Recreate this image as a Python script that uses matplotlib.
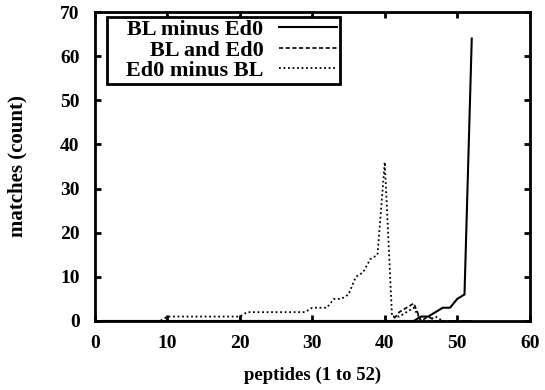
import matplotlib
matplotlib.use('Agg')
import matplotlib.pyplot as plt
import numpy as np

plt.rcParams['font.family'] = 'Liberation Serif'
plt.rcParams['font.weight'] = 'bold'

peptides = list(range(1, 53))

# BL minus Ed0
bl_minus = [0]*44 + [1, 1, 2, 3, 3, 5, 6, 64]
# BL and Ed0
bl_and = [0]*41 + [2, 3, 4, 0, 1, 0] + [0]*5
# Ed0 minus BL
ed0_minus = ([0]*9 + [1]*11 + [2]*9 + [3]*3 + [5, 5, 6, 10, 11, 14, 15, 36]
             + [1, 1, 2, 3, 0, 0, 1, 0] + [0]*4)

fig = plt.figure(figsize=(5.45, 3.9), dpi=100)
ax = fig.add_axes([0.174, 0.177, 0.798, 0.792])

ax.plot(peptides, bl_minus, '-', color='black', linewidth=1.5, label='   BL minus Ed0')
ax.plot(peptides, bl_and, color='black', linewidth=1.2, linestyle=(0, (2.5, 1.5)), label='   BL and Ed0')
ax.plot(peptides, ed0_minus, color='black', linewidth=1.3, linestyle=(0, (1, 1.5)), label='   Ed0 minus BL')

ax.set_xlim(0, 60)
ax.set_ylim(0, 70)
ax.set_xticks(np.arange(0, 61, 10))
ax.set_yticks(np.arange(0, 71, 10))
ax.tick_params(direction='in', top=True, right=True, length=4, width=2, labelsize=14)
ax.tick_params(axis='x', pad=10)
ax.tick_params(axis='y', pad=11)
for s in ax.spines.values():
    s.set_linewidth(2)

ax.set_xlabel('peptides (1 to 52)', fontsize=13.5, fontweight='bold')
ax.set_ylabel('matches (count)', fontsize=15, fontweight='bold')
ax.xaxis.set_label_coords(0.5, -0.148)
ax.yaxis.set_label_coords(-0.155, 0.5)

leg = ax.legend(loc='upper left', bbox_to_anchor=(0.027, 0.985), markerfirst=False,
                fontsize=16, handlelength=2.6, handletextpad=0.7, labelspacing=0.0,
                borderpad=0.12, fancybox=False, frameon=True, framealpha=1,
                edgecolor='black', borderaxespad=0)
leg.get_frame().set_linewidth(2)
# right-align the entries like gnuplot does
for col in leg._legend_handle_box.get_children():
    col.align = 'right'

fig.savefig('out.png', dpi=100)
